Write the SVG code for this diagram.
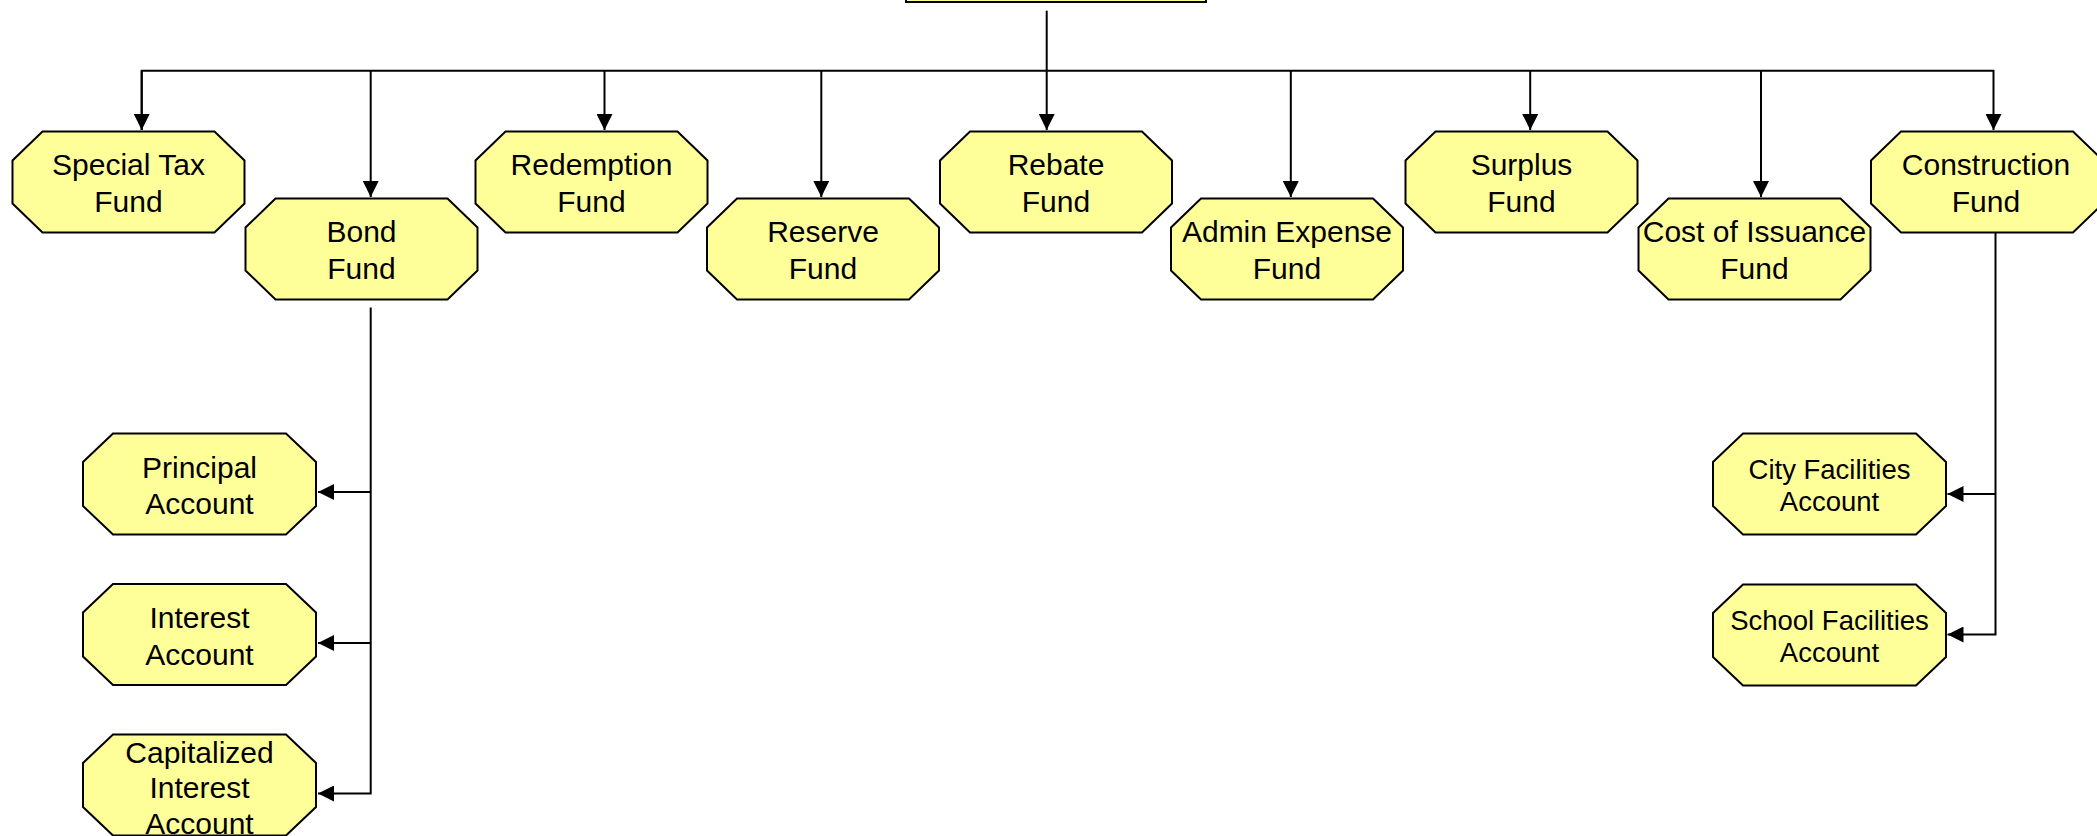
<svg xmlns="http://www.w3.org/2000/svg" width="2097" height="836" viewBox="0 0 2097 836">
<style>
.node{fill:#FFFF99;stroke:#000;stroke-width:2}
.t{font-family:"Liberation Sans",Arial,sans-serif;font-size:30px;fill:#000;text-anchor:middle}
.s{font-size:27.5px}
.c{fill:none;stroke:#000;stroke-width:2}
</style>
<defs>
<marker id="ah" markerUnits="userSpaceOnUse" markerWidth="17" markerHeight="16" refX="16" refY="8" orient="auto">
<path d="M0,0 L16,8 L0,16 z" fill="#000"/>
</marker>
</defs>
<rect width="2097" height="836" fill="#fff"/>
<g id="connectors">
<line class="c" x1="1046.7" y1="10.7" x2="1046.7" y2="130" marker-end="url(#ah)"/>
<polyline class="c" points="141.7,130 141.7,70.7 1993.5,70.7 1993.5,130" marker-end="url(#ah)"/>
<line class="c" x1="141.7" y1="70.7" x2="141.7" y2="130" marker-end="url(#ah)"/>
<line class="c" x1="370.7" y1="70.7" x2="370.7" y2="197" marker-end="url(#ah)"/>
<line class="c" x1="604.5" y1="70.7" x2="604.5" y2="130" marker-end="url(#ah)"/>
<line class="c" x1="821.3" y1="70.7" x2="821.3" y2="197" marker-end="url(#ah)"/>
<line class="c" x1="1290.8" y1="70.7" x2="1290.8" y2="197" marker-end="url(#ah)"/>
<line class="c" x1="1530.2" y1="70.7" x2="1530.2" y2="130" marker-end="url(#ah)"/>
<line class="c" x1="1761" y1="70.7" x2="1761" y2="197" marker-end="url(#ah)"/>
<polyline class="c" points="370.7,307.5 370.7,793.5 318,793.5" marker-end="url(#ah)"/>
<line class="c" x1="370.7" y1="492" x2="318" y2="492" marker-end="url(#ah)"/>
<line class="c" x1="370.7" y1="643" x2="318" y2="643" marker-end="url(#ah)"/>
<polyline class="c" points="1995.5,232.5 1995.5,634.5 1947.5,634.5" marker-end="url(#ah)"/>
<line class="c" x1="1995.5" y1="494" x2="1947.5" y2="494" marker-end="url(#ah)"/>
</g>
<g id="top-node"><rect class="node" x="906" y="-60" width="300" height="62"/></g>
<g id="special-tax-fund"><polygon class="node" points="42.5,131.5 214.5,131.5 244.5,160.5 244.5,203.5 214.5,232.5 42.5,232.5 12.5,203.5 12.5,160.5"/><text class="t" x="128.5" y="175">Special Tax</text><text class="t" x="128.5" y="211.5">Fund</text></g>
<g id="bond-fund"><polygon class="node" points="275.5,198.5 447.5,198.5 477.5,227.5 477.5,270.5 447.5,299.5 275.5,299.5 245.5,270.5 245.5,227.5"/><text class="t" x="361.5" y="242">Bond</text><text class="t" x="361.5" y="278.5">Fund</text></g>
<g id="redemption-fund"><polygon class="node" points="505.5,131.5 677.5,131.5 707.5,160.5 707.5,203.5 677.5,232.5 505.5,232.5 475.5,203.5 475.5,160.5"/><text class="t" x="591.5" y="175">Redemption</text><text class="t" x="591.5" y="211.5">Fund</text></g>
<g id="reserve-fund"><polygon class="node" points="737,198.5 909,198.5 939,227.5 939,270.5 909,299.5 737,299.5 707,270.5 707,227.5"/><text class="t" x="823" y="242">Reserve</text><text class="t" x="823" y="278.5">Fund</text></g>
<g id="rebate-fund"><polygon class="node" points="970,131.5 1142,131.5 1172,160.5 1172,203.5 1142,232.5 970,232.5 940,203.5 940,160.5"/><text class="t" x="1056" y="175">Rebate</text><text class="t" x="1056" y="211.5">Fund</text></g>
<g id="admin-expense-fund"><polygon class="node" points="1201,198.5 1373,198.5 1403,227.5 1403,270.5 1373,299.5 1201,299.5 1171,270.5 1171,227.5"/><text class="t" x="1287" y="242">Admin Expense</text><text class="t" x="1287" y="278.5">Fund</text></g>
<g id="surplus-fund"><polygon class="node" points="1435.5,131.5 1607.5,131.5 1637.5,160.5 1637.5,203.5 1607.5,232.5 1435.5,232.5 1405.5,203.5 1405.5,160.5"/><text class="t" x="1521.5" y="175">Surplus</text><text class="t" x="1521.5" y="211.5">Fund</text></g>
<g id="cost-of-issuance-fund"><polygon class="node" points="1668.5,198.5 1840.5,198.5 1870.5,227.5 1870.5,270.5 1840.5,299.5 1668.5,299.5 1638.5,270.5 1638.5,227.5"/><text class="t" x="1754.5" y="242">Cost of Issuance</text><text class="t" x="1754.5" y="278.5">Fund</text></g>
<g id="construction-fund"><polygon class="node" points="1901,131.5 2073,131.5 2103,160.5 2103,203.5 2073,232.5 1901,232.5 1871,203.5 1871,160.5"/><text class="t" x="1986" y="175">Construction</text><text class="t" x="1986" y="211.5">Fund</text></g>
<g id="principal-account"><polygon class="node" points="113,433.5 286,433.5 316,462 316,506 286,534.5 113,534.5 83,506 83,462"/><text class="t" x="199.5" y="477.5">Principal</text><text class="t" x="199.5" y="514">Account</text></g>
<g id="interest-account"><polygon class="node" points="113,584 286,584 316,612.5 316,656.5 286,685 113,685 83,656.5 83,612.5"/><text class="t" x="199.5" y="628">Interest</text><text class="t" x="199.5" y="664.5">Account</text></g>
<g id="capitalized-interest-account"><polygon class="node" points="113,734.5 286,734.5 316,763 316,807 286,835.5 113,835.5 83,807 83,763"/><text class="t" x="199.5" y="762.5">Capitalized</text><text class="t" x="199.5" y="798">Interest</text><text class="t" x="199.5" y="834">Account</text></g>
<g id="city-facilities-account"><polygon class="node" points="1743,433.5 1916,433.5 1946,462 1946,506 1916,534.5 1743,534.5 1713,506 1713,462"/><text class="t s" x="1829.5" y="478.5">City Facilities</text><text class="t s" x="1829.5" y="510.5">Account</text></g>
<g id="school-facilities-account"><polygon class="node" points="1743,584.5 1916,584.5 1946,613 1946,657 1916,685.5 1743,685.5 1713,657 1713,613"/><text class="t s" x="1829.5" y="629.5">School Facilities</text><text class="t s" x="1829.5" y="661.5">Account</text></g>
</svg>
